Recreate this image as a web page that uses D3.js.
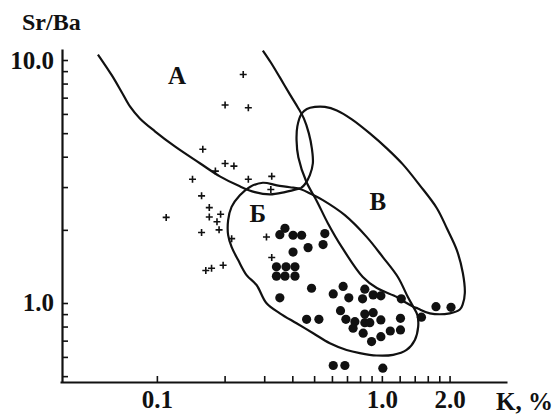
<!DOCTYPE html>
<html>
<head>
<meta charset="utf-8">
<script src="https://cdn.jsdelivr.net/npm/d3@7"></script>
<style>
  html, body { margin: 0; padding: 0; background: #fff; }
  svg { display: block; }
  text { font-family: "Liberation Serif", "DejaVu Serif", serif; font-weight: bold; fill: #111; }
</style>
</head>
<body>
<svg id="chart" width="552" height="415"></svg>
<script>
// K, % and Sr/Ba of samples with filled circles
const dotK = [0.371,0.352,0.403,0.440,0.558,0.548,0.470,0.403,0.340,0.375,
              0.411,0.340,0.371,0.411,0.487,0.352,0.608,0.673,0.713,0.840,
              0.821,0.915,0.990,1.22,1.74,2.03,1.50,0.655,0.463,0.525,
              0.692,0.759,0.840,0.915,0.840,0.884,0.990,1.21,0.745,0.826,
              0.900,0.990,1.09,1.21,0.608,0.685,1.01];
const dotSrBa = [2.03,1.91,1.90,1.90,1.93,1.74,1.69,1.62,1.41,1.41,
                 1.41,1.29,1.29,1.29,1.15,1.05,1.09,1.17,1.05,1.14,
                 1.04,1.08,1.07,1.04,0.966,0.960,0.874,0.930,0.857,0.857,
                 0.857,0.838,0.901,0.912,0.830,0.830,0.852,0.865,0.787,0.751,
                 0.694,0.727,0.767,0.775,0.553,0.553,0.539];

// samples marked with crosses
const crossK = [0.242,0.201,0.255,0.160,0.201,0.220,0.182,0.144,0.255,0.324,
                0.321,0.158,0.110,0.171,0.171,0.192,0.185,0.189,0.158,0.215,
                0.307,0.324,0.165,0.175,0.197];
const crossSrBa = [8.72,6.53,6.36,4.29,3.75,3.66,3.49,3.23,3.23,3.32,
                   2.93,2.76,2.25,2.47,2.26,2.32,2.16,2.00,1.95,1.84,
                   1.87,1.54,1.36,1.39,1.43];

// field А: lower-left and right boundaries meeting at the bottom cusp
const fieldA_left = [[0.0547,10.53],[0.0631,8.64],[0.0699,7.35],[0.0759,6.44],[0.0840,5.75],
                     [0.0980,5.09],[0.1202,4.41],[0.1553,3.76],[0.1905,3.32],[0.2338,3.02],
                     [0.2726,2.86],[0.3178,2.80],[0.3706,2.86],[0.4365,2.97]];
const fieldA_right = [[0.2958,10.94],[0.3210,9.77],[0.3521,8.48],[0.3901,7.22],[0.4233,6.38],
                      [0.4500,5.75],[0.4737,4.99],[0.4885,4.33],[0.4936,3.76],[0.4786,3.36],
                      [0.4548,3.08],[0.4365,2.97]];
// field В (closed)
const fieldV = [[0.4396,6.01],[0.4642,6.29],[0.5039,6.41],[0.5581,6.41],[0.6310,6.20],
                [0.7356,5.70],[0.8843,4.99],[1.052,4.33],[1.240,3.72],[1.475,3.05],
                [1.756,2.455],[1.945,2.03],[2.154,1.651],[2.291,1.328],[2.338,1.099],
                [2.291,0.991],[2.222,0.940],[2.005,0.907],[1.634,0.907],[1.445,0.949],
                [1.373,0.968],[1.265,1.009],[1.166,1.058],[0.950,1.152],[0.823,1.279],
                [0.664,1.698],[0.5754,2.131],[0.5142,2.624],[0.4618,3.155],[0.4254,3.98],
                [0.4177,4.67],[0.4211,5.33]];
// field Б (closed)
const fieldB = [[0.2958,3.125],[0.3414,3.05],[0.3901,2.995],[0.4365,2.94],[0.4885,2.80],
                [0.5468,2.65],[0.6848,2.298],[0.8577,1.867],[1.010,1.545],[1.178,1.279],
                [1.305,1.058],[1.380,0.963],[1.438,0.893],[1.450,0.797],[1.402,0.705],
                [1.288,0.641],[1.123,0.612],[0.947,0.608],[0.798,0.622],[0.697,0.641],
                [0.5873,0.683],[0.4952,0.751],[0.4177,0.825],[0.3521,0.907],[0.3073,0.997],
                [0.2773,1.186],[0.2504,1.303],[0.2298,1.502],[0.2148,1.703],[0.2074,1.902],
                [0.2074,2.192],[0.2148,2.486],[0.2338,2.777],[0.2591,3.004]];

// axis ticks
const xTicks = [0.1,0.2,0.3,0.4,0.5,0.6,0.7,0.8,0.9,1.0,1.2,1.4,1.6,1.8,2.0];
const xLabels = {0.1: "0.1", 1: "1.0", 2: "2.0"};
const yTicks = [0.5,0.6,0.7,0.8,0.9,1,2,3,4,5,6,7,8,9,10];
const yLabels = {1: "1.0", 10: "10.0"};

const svg = d3.select("#chart");
svg.append("rect").attr("width", 552).attr("height", 415).attr("fill", "#fff");

const x = d3.scaleLog().domain([0.0371, 3.6]).range([60, 507]);
const y = d3.scaleLog().domain([0.473, 11.1]).range([382, 49]);

// axes with inward ticks
const xAxis = d3.axisBottom(x).tickValues(xTicks)
  .tickFormat(d => xLabels[d] || "").tickSizeInner(-6).tickSizeOuter(0).tickPadding(8);
const yAxis = d3.axisLeft(y).tickValues(yTicks)
  .tickFormat(d => yLabels[d] || "").tickSizeInner(-6).tickSizeOuter(0).tickPadding(8);

const gx = svg.append("g").attr("transform", "translate(0,382)").call(xAxis);
const gy = svg.append("g").attr("transform", "translate(62,0)").call(yAxis);
[gx, gy].forEach(g => {
  g.select(".domain").attr("stroke", "#111").attr("stroke-width", 2.2);
  g.selectAll(".tick line").attr("stroke", "#111").attr("stroke-width", 1.6);
  g.selectAll(".tick text").attr("font-family", "Liberation Serif, serif")
    .attr("font-weight", "bold").attr("font-size", 25).attr("fill", "#111");
});

// axis titles
svg.append("text").attr("x", 22).attr("y", 30).attr("font-size", 24).text("Sr/Ba");
svg.append("text").attr("x", 496).attr("y", 410).attr("font-size", 25).text("K, %");

// field boundaries
const line = d3.line().x(d => x(d[0])).y(d => y(d[1]));
const bounds = svg.append("g").attr("fill", "none").attr("stroke", "#111")
  .attr("stroke-width", 2.2).attr("stroke-linejoin", "round");
bounds.append("path").attr("d", line.curve(d3.curveCatmullRom)(fieldA_left));
bounds.append("path").attr("d", line.curve(d3.curveCatmullRom)(fieldA_right));
bounds.append("path").attr("d", line.curve(d3.curveCatmullRomClosed)(fieldV));
bounds.append("path").attr("d", line.curve(d3.curveCatmullRomClosed)(fieldB));

// field names
const names = [["А", 0.123, 8.0], ["Б", 0.281, 2.15], ["В", 0.96, 2.41]];
svg.append("g").selectAll("text").data(names).join("text")
  .attr("x", d => x(d[1])).attr("y", d => y(d[2]))
  .attr("text-anchor", "middle").attr("font-size", 25).text(d => d[0]);

// crosses
const crosses = crossK.map((k, i) => [k, crossSrBa[i]]);
svg.append("g").attr("stroke", "#111").attr("stroke-width", 1.6)
  .selectAll("path").data(crosses).join("path")
  .attr("transform", d => `translate(${x(d[0])},${y(d[1])})`)
  .attr("d", "M-3.5,0H3.5M0,-3.5V3.5");

// filled circles
const dots = dotK.map((k, i) => [k, dotSrBa[i]]);
svg.append("g").attr("fill", "#111")
  .selectAll("circle").data(dots).join("circle")
  .attr("cx", d => x(d[0])).attr("cy", d => y(d[1])).attr("r", 4.6);
</script>
</body>
</html>
